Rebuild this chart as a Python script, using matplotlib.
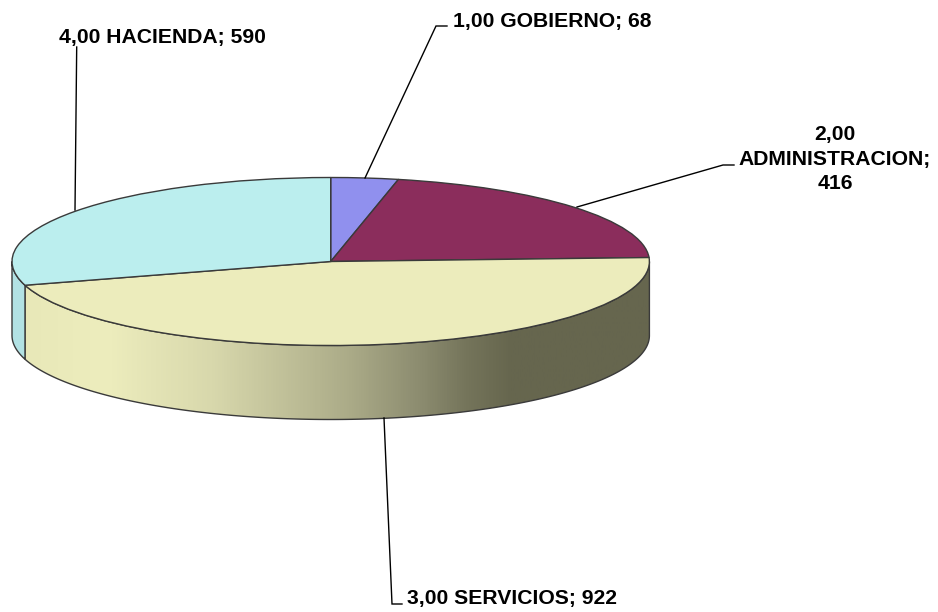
import numpy as np
import matplotlib
matplotlib.use("Agg")
import matplotlib.pyplot as plt
from matplotlib.patches import Wedge, Polygon
from matplotlib.transforms import Affine2D
from matplotlib.colors import LinearSegmentedColormap

plt.rcParams["font.family"] = ["Liberation Sans", "DejaVu Sans"]

# datos del grafico
labels = ["1,00 GOBIERNO; 68", "2,00\nADMINISTRACION;\n416", "3,00 SERVICIOS; 922", "4,00 HACIENDA; 590"]
values = [68, 416, 922, 590]
colors = ["#9090EE", "#8B2D5C", "#ECECBC", "#BBEEEE"]
label_pos = [(453, 22), (835, 159), (407, 598.5), (162, 38)]
leaders = [
    [(365, 178), (436, 26), (447, 26)],
    [(577, 207), (723, 165), (734, 165)],
    [(384, 418), (392, 604), (402, 604)],
    [(75, 210), (76.7, 47)],
]

cx, cy, rx, ry, depth = 330.7, 261.5, 318.7, 84, 74
edge = "#3a3a3a"

fig = plt.figure(figsize=(9.38, 6.12), dpi=100)
ax = fig.add_axes([0, 0, 1, 1])
ax.set_xlim(0, 938)
ax.set_ylim(612, 0)
ax.axis("off")

# angulos en sentido horario desde las 12
cum = np.cumsum([0] + values) / sum(values)
theta = 90 - cum * 360


def rim(t1, t2):
    t = np.radians(np.linspace(t1, t2, 200))
    x = cx + rx * np.cos(t)
    y = cy - ry * np.sin(t)
    top = np.column_stack([x, y])
    bot = np.column_stack([x, y + depth])[::-1]
    return np.vstack([top, bot])


# lado amarillo con degradado
side = Polygon(rim(0, theta[3]), closed=True, fc="none", ec=edge, lw=1.0, zorder=3)
ax.add_patch(side)
cmap = LinearSegmentedColormap.from_list(
    "lado",
    [(0.0, "#E8E8B8"), (0.13, "#EDEDBD"), (0.3, "#D8D8AC"), (0.52, "#ABAB88"),
     (0.64, "#8A8A6E"), (0.71, "#74745A"), (0.78, "#66664E"), (1.0, "#66664E")],
)
img = ax.imshow(np.linspace(0, 1, 512)[None, :], cmap=cmap, extent=(24, 650, 612, 0),
                aspect="auto", zorder=2)
img.set_clip_path(side)

# lado celeste
ax.add_patch(Polygon(rim(theta[3], -180), closed=True, fc="#B2E2E4", ec=edge, lw=1.0, zorder=3))

# tapa
tr = Affine2D().scale(rx, -ry).translate(cx, cy) + ax.transData
for i in range(len(values)):
    ax.add_patch(Wedge((0, 0), 1, theta[i + 1], theta[i], fc=colors[i], ec=edge, lw=1.0,
                       transform=tr, zorder=4))

# etiquetas
for i, pts in enumerate(leaders):
    xs, ys = zip(*pts)
    ax.plot(xs, ys, color="black", lw=1.0, zorder=5, solid_joinstyle="miter")
aligns = ["left", "center", "left", "center"]
for txt, (x, y), ha in zip(labels, label_pos, aligns):
    ax.text(x, y, txt, ha=ha, va="center", fontsize=15.2, fontweight="bold", color="black",
            linespacing=1.38, zorder=6)

fig.savefig("out.png", dpi=100)
